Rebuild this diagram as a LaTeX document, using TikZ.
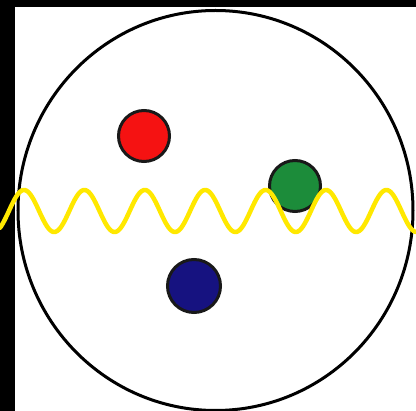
\documentclass[tikz,border=0pt]{standalone}
\definecolor{dotred}{RGB}{245,18,18}
\definecolor{dotgreen}{RGB}{28,140,58}
\definecolor{dotblue}{RGB}{22,18,128}
\definecolor{waveyellow}{RGB}{255,232,0}
\tikzset{
  dot/.style={circle, draw=black!90, line width=3pt, minimum size=51pt, inner sep=0pt},
  ring/.style={ellipse, draw=black, line width=3pt, minimum width=395pt, minimum height=400pt, inner sep=0pt},
  wave/.style={draw=waveyellow, line width=4.5pt, line cap=round, line join=round}
}
\usetikzlibrary{shapes.geometric}
\begin{document}
\begin{tikzpicture}[x=1pt, y=-1pt]
\useasboundingbox (0,0) rectangle (416,411);
\fill[black] (0,0) rectangle (416,411);
\fill[white] (15,7) rectangle (416,411);
\node[ring] (cell) at (215.5,210.5) {};
\node[dot, fill=dotred] (red) at (144,136) {};
\node[dot, fill=dotgreen] (green) at (295,186) {};
\node[dot, fill=dotblue, minimum size=53pt] (blue) at (194,286) {};
\draw[wave] plot[domain=0:416, samples=300, smooth] (\x, {211 - 21*cos(5.96026*(\x-24))});
\end{tikzpicture}
\end{document}
